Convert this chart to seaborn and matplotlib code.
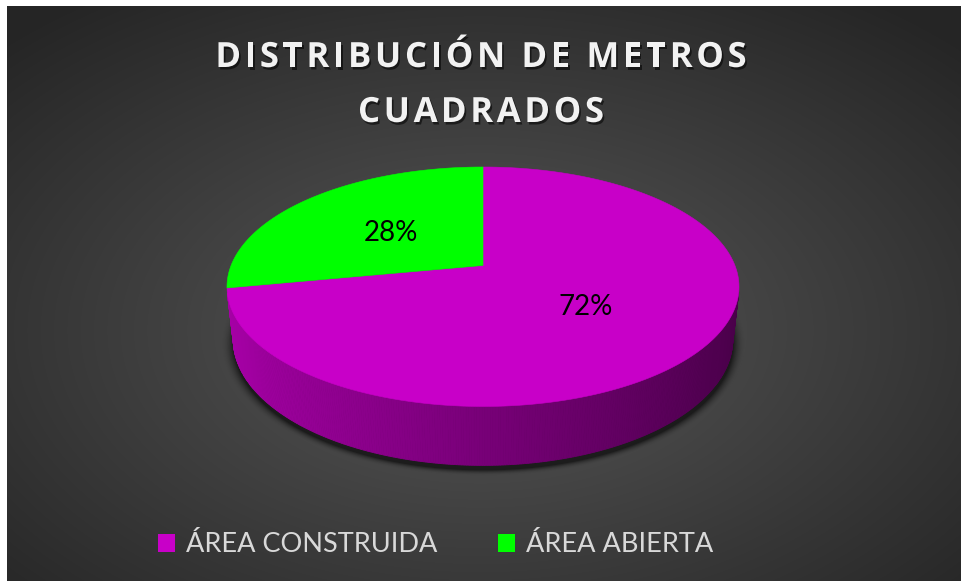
import numpy as np
import matplotlib
matplotlib.use("Agg")
import matplotlib.pyplot as plt
import seaborn as sns
from matplotlib.patches import Polygon, Patch
import matplotlib.patheffects as pe
from matplotlib.font_manager import FontProperties

# ---- data ----
categories = ["ÁREA CONSTRUIDA", "ÁREA ABIERTA"]
values = [72, 28]
slice_colors = ["#c800c8", "#00ff00"]
title_lines = ["DISTRIBUCIÓN DE METROS", "CUADRADOS"]

sns.set_theme(style="white")
plt.rcParams["font.family"] = ["Lato", "DejaVu Sans"]

W, H = 961, 581
fig = plt.figure(figsize=(W / 100, H / 100), dpi=100)
fig.patch.set_facecolor("white")
ax = fig.add_axes([0, 0, 1, 1])
ax.set_xlim(0, W)
ax.set_ylim(H, 0)
ax.axis("off")

# ---- radial gradient panel ----
left, top = 7, 6
yy, xx = np.mgrid[0:H, 0:W].astype(float)
cx, cy = 480.0, 330.0
d = np.sqrt(((xx - cx) / (W / 2)) ** 2 + ((yy - cy) / (H / 2)) ** 2) / np.sqrt(2)
d = np.clip(d, 0, 1)
g = (0x58 - (0x58 - 0x25) * d) / 255.0
bg = np.dstack([g, g, g])
bg[:, :left] = 1.0
bg[:top, :] = 1.0
ax.imshow(bg, extent=(0, W, H, 0), zorder=0, interpolation="bilinear")

# ---- perspective pie ----
phi = np.radians(29.8)
Dcam = 5.0
thick = 0.238
s_, c_ = np.sin(phi), np.cos(phi)


def project(X, Y, Z):
    depth = Dcam + Y * c_ - Z * s_
    return X / depth, (Y * s_ + Z * c_) / depth, depth


# fit the projected pie into its plot box
t_all = np.linspace(0, 2 * np.pi, 721)
px_all, py_all = [], []
for zz in (0.0, thick):
    a, b, _ = project(np.cos(t_all), np.sin(t_all), zz)
    px_all.append(a)
    py_all.append(b)
px_all = np.concatenate(px_all)
py_all = np.concatenate(py_all)
box_l, box_r, box_t = 227.0, 739.0, 167.0
k = (box_r - box_l) / (px_all.max() - px_all.min())
x0 = box_l - k * px_all.min()
y0 = box_t + k * py_all.max()


def to_px(X, Y, Z):
    a, b, dep = project(X, Y, Z)
    return x0 + k * a, y0 - k * b, dep


# slice angles: first slice clockwise from 12 o'clock
total = float(sum(values))
start = np.pi / 2
bounds = []
for v in values:
    end = start - 2 * np.pi * v / total
    bounds.append((start, end))
    start = end

# soft shadow under the pie
bx, by, _ = to_px(np.cos(t_all), np.sin(t_all), np.zeros_like(t_all))
ecx, ecy = (bx.max() + bx.min()) / 2, (by.max() + by.min()) / 2 + 4
erx, ery = (bx.max() - bx.min()) / 2, (by.max() - by.min()) / 2
rn = np.sqrt(((xx - ecx) / erx) ** 2 + ((yy - ecy) / ery) ** 2)
sh_alpha = 0.6 * np.clip(1 - (rn - 1) / 0.05, 0, 1) ** 2
shadow = np.zeros((H, W, 4))
shadow[..., 3] = sh_alpha
ax.imshow(shadow, extent=(0, W, H, 0), zorder=1, interpolation="bilinear")


def shade(hexcol, f):
    rgb = np.array(matplotlib.colors.to_rgb(hexcol))
    return tuple(np.clip(rgb * f, 0, 1))


# side walls (only parts facing the camera), back-to-front
quads = []
for (a0, a1), col in zip(bounds, slice_colors):
    n = max(int(abs(a1 - a0) / np.radians(0.5)), 2)
    ts = np.linspace(a0, a1, n + 1)
    for t1, t2 in zip(ts[:-1], ts[1:]):
        tm = (t1 + t2) / 2
        facing = -1 - Dcam * c_ * np.sin(tm)
        if facing <= 0:
            continue
        xa, ya, _ = to_px(np.cos([t1, t2, t2, t1]), np.sin([t1, t2, t2, t1]),
                          np.array([thick, thick, 0, 0]))
        _, _, dep = to_px(np.cos(tm), np.sin(tm), thick / 2)
        fshade = 0.6 - 0.24 * np.cos(tm)
        quads.append((dep, np.column_stack([xa, ya]), shade(col, fshade)))
quads.sort(key=lambda q: -q[0])
for dep, pts, colr in quads:
    ax.add_patch(Polygon(pts, closed=True, facecolor=colr, edgecolor=colr,
                         lw=0.6, zorder=2))

# top faces
for (a0, a1), col in zip(bounds, slice_colors):
    ts = np.linspace(a0, a1, 400)
    X = np.concatenate([[0], np.cos(ts)])
    Y = np.concatenate([[0], np.sin(ts)])
    xa, ya, _ = to_px(X, Y, np.full_like(X, thick))
    ax.add_patch(Polygon(np.column_stack([xa, ya]), closed=True, facecolor=col,
                         edgecolor=col, lw=0.4, zorder=3))

# data labels
for (a0, a1), v in zip(bounds, values):
    tm = (a0 + a1) / 2
    lx, ly, _ = to_px(0.5 * np.cos(tm), 0.5 * np.sin(tm), thick)
    ax.text(lx, ly, f"{v}%", ha="center", va="center_baseline", fontsize=20,
            color="black", zorder=4)

# ---- title with letter spacing ----
fig.canvas.draw()
renderer = fig.canvas.get_renderer()
tfp = FontProperties(family=["Open Sans", "DejaVu Sans"], weight="bold", size=25)
spacing = 3.6
shadow_fx = [pe.SimplePatchShadow(offset=(1.2, -1.8), shadow_rgbFace="black",
                                  alpha=0.55), pe.Normal()]


def spaced_text(txt, xc, baseline):
    widths = [renderer.get_text_width_height_descent(txt[:i], tfp, ismath=False)[0]
              if i else 0.0 for i in range(len(txt) + 1)]
    total_w = widths[-1] + spacing * (len(txt) - 1)
    xs = xc - total_w / 2
    for i, ch in enumerate(txt):
        if ch == " ":
            continue
        ax.text(xs + widths[i] + spacing * i, baseline, ch, fontproperties=tfp,
                color="#f2f2f2", ha="left", va="baseline", zorder=5,
                path_effects=shadow_fx)


spaced_text(title_lines[0], 481, 67)
spaced_text(title_lines[1], 481, 122)

# ---- legend ----
handles = [Patch(facecolor=c, edgecolor="none", label=l)
           for c, l in zip(slice_colors, categories)]
fig.legend(handles=handles, ncol=2, loc="center",
           bbox_to_anchor=(435.5 / W, 1 - 545 / H), frameon=False,
           fontsize=19.5, labelcolor="#d9d9d9", handlelength=0.63,
           handleheight=0.63, handletextpad=0.4, columnspacing=2.25)

fig.savefig("out.png", dpi=100, facecolor=fig.get_facecolor())
